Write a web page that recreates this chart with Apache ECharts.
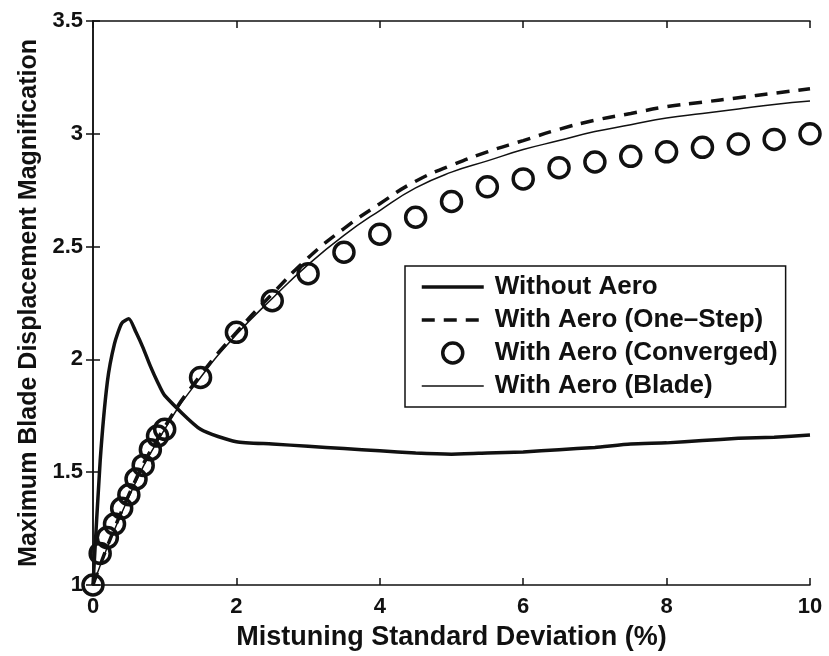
<!DOCTYPE html>
<html>
<head>
<meta charset="utf-8">
<script src="https://cdn.jsdelivr.net/npm/echarts@6/dist/echarts.min.js"></script>
<style>
  html, body { margin: 0; padding: 0; background: #fff; }
  #chart { width: 829px; height: 656px; }
</style>
</head>
<body>
<div id="chart"></div>
<script>
// mistuning std dev (%)
const xFine = [0, 0.1, 0.2, 0.3, 0.4, 0.5, 0.6, 0.7, 0.8, 0.9, 1.0, 1.5, 2, 2.5, 3, 3.5, 4, 4.5, 5, 5.5, 6, 6.5, 7, 7.5, 8, 8.5, 9, 9.5, 10];
const xCoarse = [0, 0.5, 1.0, 1.5, 2, 2.5, 3, 3.5, 4, 4.5, 5, 5.5, 6, 6.5, 7, 7.5, 8, 8.5, 9, 9.5, 10];

const withoutAero = [1.0, 1.55, 1.90, 2.07, 2.16, 2.18, 2.12, 2.05, 1.97, 1.90, 1.84, 1.69, 1.635, 1.625, 1.615, 1.605, 1.595, 1.585, 1.58, 1.585, 1.59, 1.60, 1.61, 1.625, 1.63, 1.64, 1.65, 1.655, 1.665];
const oneStep = [1.0, 1.40, 1.70, 1.93, 2.12, 2.29, 2.45, 2.58, 2.69, 2.79, 2.86, 2.92, 2.97, 3.02, 3.06, 3.09, 3.12, 3.14, 3.16, 3.18, 3.20];
const blade = [1.0, 1.39, 1.69, 1.92, 2.11, 2.27, 2.42, 2.55, 2.66, 2.76, 2.83, 2.88, 2.93, 2.97, 3.01, 3.04, 3.07, 3.09, 3.11, 3.13, 3.145];
const converged = [1.0, 1.14, 1.21, 1.27, 1.34, 1.40, 1.47, 1.53, 1.60, 1.66, 1.69, 1.92, 2.12, 2.26, 2.38, 2.475, 2.555, 2.63, 2.70, 2.765, 2.80, 2.85, 2.875, 2.90, 2.92, 2.94, 2.955, 2.975, 3.0];

const names = ["Without Aero", "With Aero (One\u2013Step)", "With Aero (Converged)", "With Aero (Blade)"];

const pairs = (xs, ys) => xs.map((x, i) => [x, ys[i]]);

const chart = echarts.init(document.getElementById("chart"));
const font = "'Liberation Sans', Arial, sans-serif";
const ink = "#111";

const axisLine = { show: true, lineStyle: { color: ink, width: 1.5 } };
const tick = { show: true, inside: true, length: 7, lineStyle: { color: ink, width: 1.5 } };
const hideSym = { opacity: 0 }; // legend: line only, no marker

chart.setOption({
  animation: false,
  backgroundColor: "#fff",
  grid: { left: 93, right: 19, top: 21, bottom: 71, outerBoundsMode: "none" },
  legend: {
    orient: "vertical",
    left: 405,
    top: 266,
    padding: [8, 8, 8, 15],
    borderColor: ink,
    borderWidth: 1.5,
    itemWidth: 62,
    itemHeight: 20,
    itemGap: 7,
    textStyle: { fontFamily: font, fontSize: 26, fontWeight: "bold", color: ink, lineHeight: 26, padding: [0, 0, 0, 6] },
    data: [
      { name: names[0], itemStyle: hideSym, lineStyle: { width: 3.5, color: ink } },
      { name: names[1], itemStyle: hideSym, lineStyle: { width: 3.5, color: ink, type: [13, 9] } },
      { name: names[2], icon: "circle", itemStyle: { color: "rgba(0,0,0,0)", borderColor: ink, borderWidth: 3.5 } },
      { name: names[3], itemStyle: hideSym, lineStyle: { width: 1.5, color: ink } }
    ]
  },
  xAxis: [
    {
      type: "value", min: 0, max: 10, interval: 2,
      name: "Mistuning Standard Deviation (%)",
      nameLocation: "middle", nameGap: 39,
      nameTextStyle: { fontFamily: font, fontSize: 27, fontWeight: "bold", color: ink },
      axisLine: axisLine, axisTick: tick, splitLine: { show: false },
      axisLabel: { fontFamily: font, fontSize: 22, fontWeight: "bold", color: ink, margin: 11 }
    },
    {
      type: "value", min: 0, max: 10, interval: 2, position: "top",
      axisLine: axisLine, axisTick: tick, splitLine: { show: false }, axisLabel: { show: false }
    }
  ],
  yAxis: [
    {
      type: "value", min: 1, max: 3.5, interval: 0.5,
      name: "Maximum Blade Displacement Magnification",
      nameLocation: "middle", nameGap: 50,
      nameTextStyle: { fontFamily: font, fontSize: 25, fontWeight: "bold", color: ink },
      axisLine: axisLine, axisTick: tick, splitLine: { show: false },
      axisLabel: { fontFamily: font, fontSize: 22, fontWeight: "bold", color: ink, margin: 10 }
    },
    {
      type: "value", min: 1, max: 3.5, interval: 0.5, position: "right",
      axisLine: axisLine, axisTick: tick, splitLine: { show: false }, axisLabel: { show: false }
    }
  ],
  series: [
    {
      name: names[0], type: "line", symbol: "none",
      data: pairs(xFine, withoutAero), smooth: 0.2,
      lineStyle: { color: ink, width: 3.5 }, itemStyle: { color: ink }
    },
    {
      name: names[1], type: "line", symbol: "none",
      data: pairs(xCoarse, oneStep), smooth: true,
      lineStyle: { color: ink, width: 3.5, type: [13, 9] }, itemStyle: { color: ink }
    },
    {
      name: names[2], type: "scatter", symbol: "circle", symbolSize: 20,
      data: pairs(xFine, converged),
      itemStyle: { color: "rgba(0,0,0,0)", borderColor: ink, borderWidth: 3.5, opacity: 1 }
    },
    {
      name: names[3], type: "line", symbol: "none",
      data: pairs(xCoarse, blade), smooth: true,
      lineStyle: { color: ink, width: 1.5 }, itemStyle: { color: ink }
    }
  ]
});
</script>
</body>
</html>
